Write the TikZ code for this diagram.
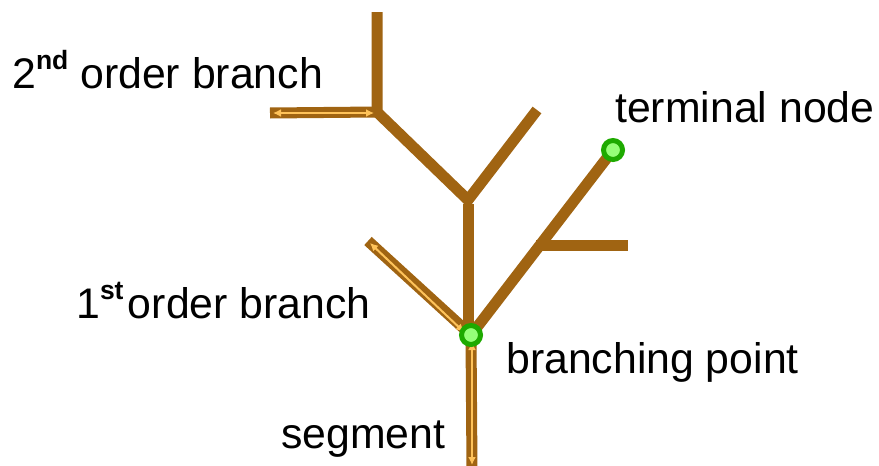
\documentclass[tikz,border=0pt]{standalone}
\usepackage{fontspec}
\setmainfont{Liberation Sans}
\usetikzlibrary{arrows.meta}
\definecolor{wood}{HTML}{A06412}
\definecolor{gauge}{HTML}{FFC35A}
\definecolor{ringgreen}{HTML}{1EAA00}
\definecolor{dotgreen}{HTML}{96FF78}
\tikzset{
  limb/.style={draw=wood, line width=11pt, line cap=butt, line join=miter},
  measure/.style={draw=gauge, line width=2pt, {Latex[length=8pt,width=8pt]}-{Latex[length=8pt,width=8pt]}},
  marker/.style={circle, draw=ringgreen, fill=dotgreen, line width=5pt, minimum size=19pt, inner sep=0pt},
  label/.style={anchor=base west, inner sep=0pt, font=\fontsize{42.8}{50}\selectfont},
}
\newcommand{\supmark}[1]{\raisebox{19pt}{\fontsize{26.5}{27}\selectfont\bfseries #1}}
\begin{document}
\begin{tikzpicture}[x=1pt, y=-1pt]
  \useasboundingbox (0,0) rectangle (879,466);

  % skeleton points of the tree
  \coordinate (root)   at (472,470);
  \coordinate (bpc)    at (471,335);
  \coordinate (fork)   at (468,200);
  \coordinate (upper)  at (377,112);
  \coordinate (top)    at (377,12);
  \coordinate (lefttip) at (270,113);
  \coordinate (rtip)   at (537,110);
  \coordinate (firsttip) at (368,241);
  \coordinate (stemtop) at (468,204);
  \coordinate (stembot) at (468,335);
  \coordinate (sidebase) at (536,245);
  \coordinate (sidetip) at (628,245);
  \coordinate (tnc)    at (613,150);

  % branches
  \draw[limb] (top) -- (upper) -- (fork) -- (rtip);
  \draw[limb] (stemtop) -- (stembot);
  \draw[limb] (lefttip) -- (upper);
  \draw[limb] (firsttip) -- (bpc);
  \draw[limb] (bpc) -- (tnc);
  \draw[limb] (sidebase) -- (sidetip);
  \draw[limb] (root) -- (bpc);

  % length gauges along segments
  \coordinate (g1a) at (273,113);
  \coordinate (g1b) at (374,113);
  \coordinate (g2a) at (370,243);
  \coordinate (g2b) at (464,332);
  \coordinate (g3a) at (472,342);
  \coordinate (g3b) at (472,465);
  \draw[measure] (g1a) -- (g1b);
  \draw[measure] (g2a) -- (g2b);
  \draw[measure] (g3a) -- (g3b);

  % branching point and terminal node
  \node[marker] (bp) at (bpc) {};
  \node[marker] (tn) at (tnc) {};

  % labels
  \node[label] (l2) at (12,88)  {2\supmark{nd} order branch};
  \node[label] (lt) at (615,122) {terminal node};
  \node[label] (l1) at (76,318) {1\supmark{st\,}order branch};
  \node[label] (lb) at (506,373) {branching point};
  \node[label] (ls) at (281,448) {segment};
\end{tikzpicture}
\end{document}
